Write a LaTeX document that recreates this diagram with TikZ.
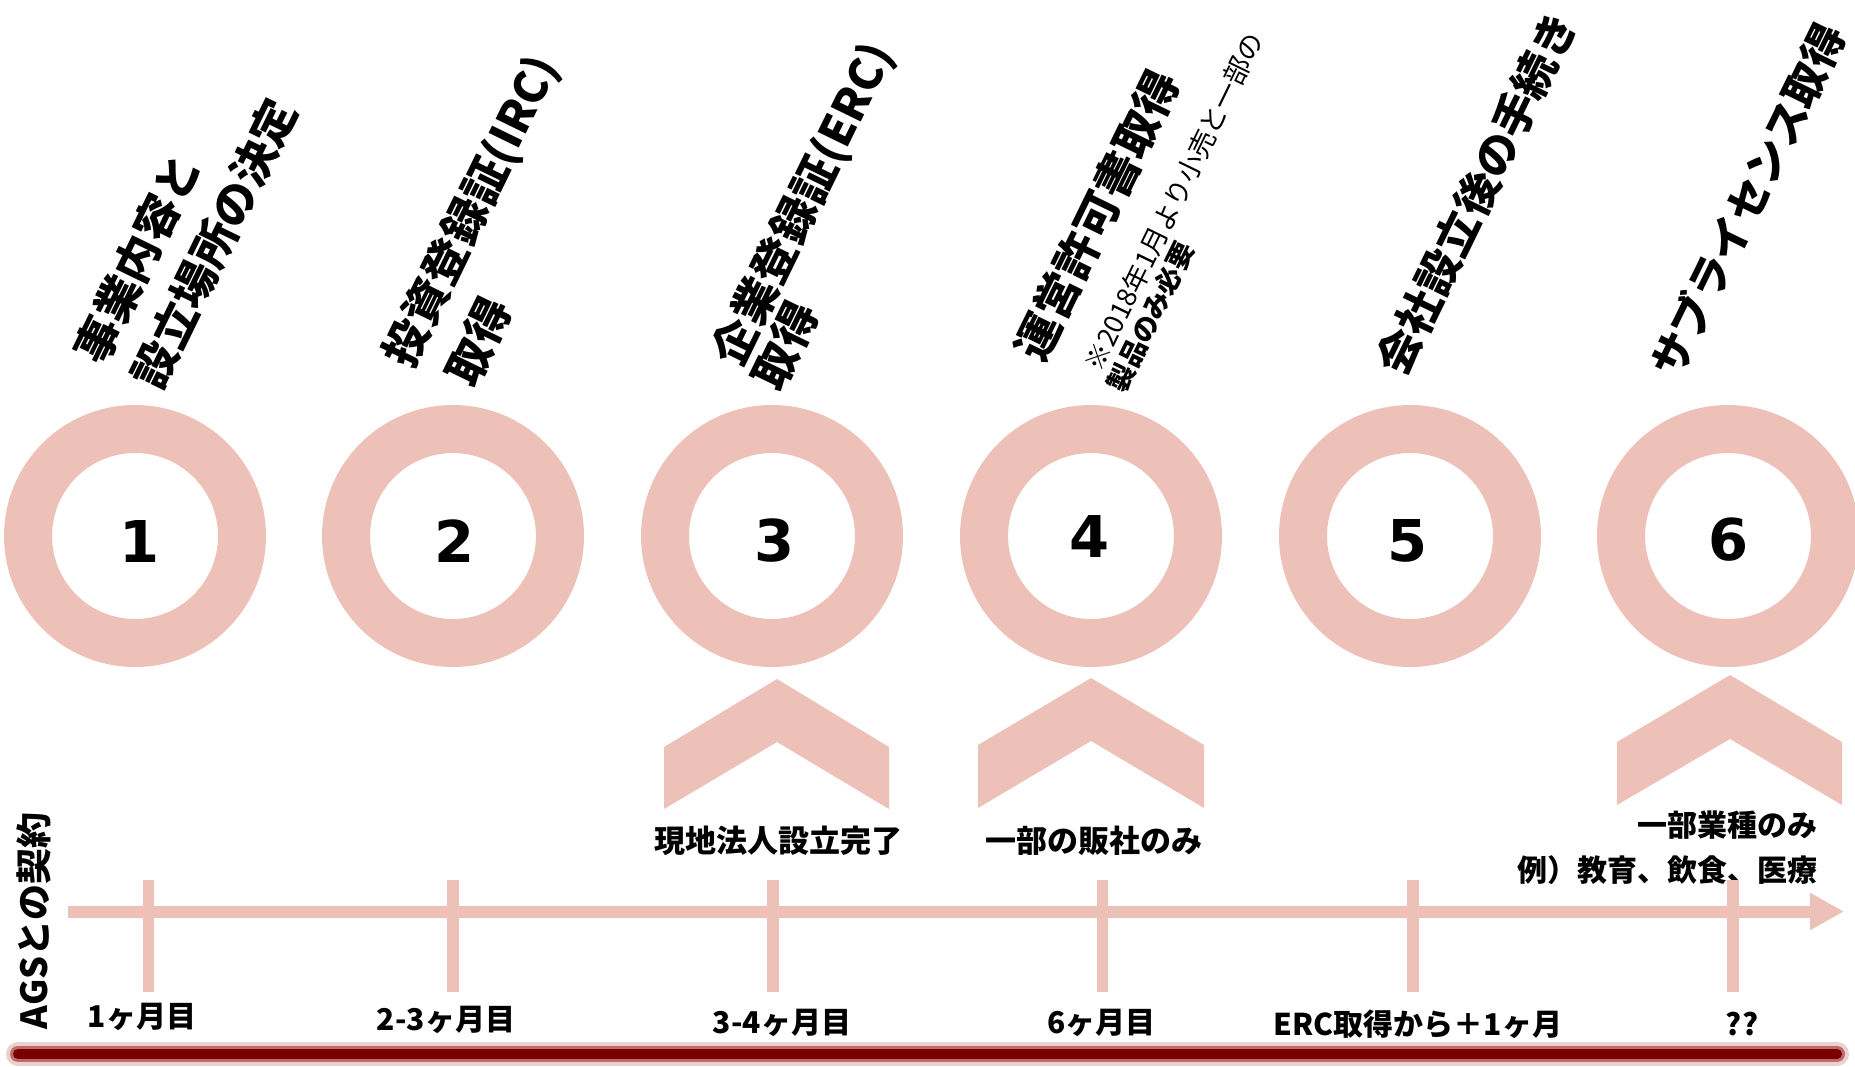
\documentclass[tikz,border=0pt]{standalone}
\usepackage{fontspec}
\setmainfont{Noto Sans CJK JP}
\newfontfamily\digitfont{DejaVu Sans}
\usetikzlibrary{arrows.meta}
\definecolor{ringpink}{HTML}{EDC1B7}
\definecolor{darkline}{HTML}{7A0000}
\definecolor{glowA}{HTML}{EBD0D0}
\definecolor{glowB}{HTML}{C06A6A}
\begin{document}
\begin{tikzpicture}[x=0.5pt,y=-0.5pt,
  ring/.style={circle, draw=ringpink, line width=24pt, minimum size=107pt, inner sep=0pt},
  num/.style={font=\digitfont\bfseries\fontsize{28.8pt}{30pt}\selectfont, inner sep=0pt},
  title/.style={font=\bfseries\fontsize{22.5pt}{27pt}\selectfont, rotate=64, anchor=west, inner sep=0pt},
  note/.style={font=\fontsize{13.5pt}{16pt}\selectfont, rotate=64, anchor=west, inner sep=0pt},
  chev/.style={fill=ringpink},
  tickline/.style={draw=ringpink, line width=5.75pt},
  axis/.style={draw=ringpink, line width=6pt, -{Triangle[length=17pt,width=17.5pt]}},
  lbl/.style={font=\bfseries\fontsize{15pt}{18pt}\selectfont, inner sep=0pt},
  clbl/.style={font=\bfseries\fontsize{15.5pt}{18pt}\selectfont, inner sep=0pt}
]
\useasboundingbox (0,0) rectangle (1855,1066);
\clip (0,0) rectangle (1855,1066);

% rings
\node[ring] (r1) at (135,536) {};
\node[ring] (r2) at (453,536) {};
\node[ring] (r3) at (772,536) {};
\node[ring] (r4) at (1091,536) {};
\node[ring] (r5) at (1410,536) {};
\node[ring] (r6) at (1728,536) {};

\node[num] (n1) at (140,541) {1};
\node[num] (n2) at (455,541) {2};
\node[num] (n3) at (775,541) {3};
\node[num] (n4) at (1090,536) {4};
\node[num] (n5) at (1408,541) {5};
\node[num] (n6) at (1729,540) {6};

% titles
\node[title] (t1a) at (87.8,360.2) {事業内容と};
\node[title] (t1b) at (145.1,385.9) {設立場所の決定};
\node[title] (t2a) at (398.1,364.2) {投資登録証(IRC)};
\node[title] (t2b) at (458.7,381.9) {取得};
\node[title] (t3a) at (727,363) {企業登録証(ERC)};
\node[title] (t3b) at (765,386) {取得};
\node[title] (t4a) at (1027.6,356.9) {運営許可書取得};
\node[note] (t4n1) at (1092,369) {※2018年1月より小売と一部の};
\node[note, font=\bfseries\fontsize{13.5pt}{16pt}\selectfont] (t4n2) at (1115,390) {製品のみ必要};
\node[title, font=\bfseries\fontsize{22pt}{27pt}\selectfont] (t5) at (1389.7,371.9) {会社設立後の手続き};
\node[title, font=\bfseries\fontsize{21.5pt}{27pt}\selectfont] (t6) at (1663,374) {サブライセンス取得};

% chevrons
\fill[chev] (664,747) -- (777,679) -- (889,747) -- (889,809) -- (777,742) -- (664,809) -- cycle;
\fill[chev] (978,745) -- (1091,678) -- (1204,745) -- (1204,808) -- (1091,741) -- (978,808) -- cycle;
\fill[chev] (1617,742) -- (1730,675) -- (1842,742) -- (1842,805) -- (1730,739) -- (1617,805) -- cycle;

% chevron labels
\node[clbl] (c3) at (778,841) {現地法人設立完了};
\node[clbl] (c4) at (1094,841) {一部の販社のみ};
\node[lbl, anchor=east] (c6a) at (1818,825) {一部業種のみ};
\node[lbl, anchor=east] (c6b) at (1818,870) {例）教育、飲食、医療};

% timeline
\coordinate (axs) at (68,911.5);
\coordinate (axe) at (1844,911.5);
\draw[axis] (axs) -- (axe);
\draw[tickline] (148.5,880) -- (148.5,992);
\draw[tickline] (453,880) -- (453,992);
\draw[tickline] (773,880) -- (773,992);
\draw[tickline] (1102.5,880) -- (1102.5,992);
\draw[tickline] (1413,880) -- (1413,992);
\draw[tickline] (1733,880) -- (1733,992);

% month labels
\node[lbl] (m1) at (142,1017) {1ヶ月目};
\node[lbl] (m2) at (446,1020) {2-3ヶ月目};
\node[lbl] (m3) at (782,1023) {3-4ヶ月目};
\node[lbl] (m4) at (1101.5,1023) {6ヶ月目};
\node[lbl] (m5) at (1418,1024) {ERC取得から＋1ヶ月};
\node[lbl] (m6) at (1742,1024) {??};

% left vertical label
\node[font=\bfseries\fontsize{18pt}{20pt}\selectfont, rotate=90, inner sep=0pt] (ags) at (34,921) {AGSとの契約};

% bottom dark line with glow
\coordinate (bl) at (18,1054);
\coordinate (br) at (1837,1054);
\draw[glowA, line width=12pt, line cap=round] (bl) -- (br);
\draw[glowB, line width=8pt, line cap=round] (bl) -- (br);
\draw[darkline, line width=5pt, line cap=round] (bl) -- (br);
\end{tikzpicture}
\end{document}
